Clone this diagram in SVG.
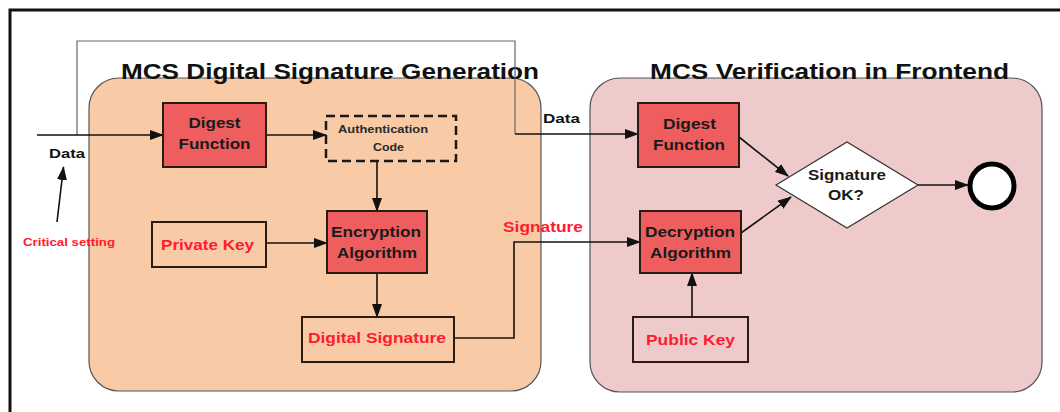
<svg xmlns="http://www.w3.org/2000/svg" width="1060" height="412" viewBox="0 0 1060 412">
<style>
text{font-family:"Liberation Sans",Arial,sans-serif;font-weight:bold;text-anchor:middle}
.t{font-size:22px;fill:#111}
.lbl{font-size:15.5px;fill:#1a1a1a}
.red{fill:#ff1a2e}
.box{stroke:#2a1c12;stroke-width:2}
.fn{fill:#ef5e5e}
.plain{fill:none}
.conn{fill:none;stroke:#111;stroke-width:1.6}
.thin{fill:none;stroke:#666;stroke-width:1.2}
</style>
<defs>
<marker id="ah" viewBox="0 0 14 10" refX="13" refY="5" markerWidth="14" markerHeight="10" markerUnits="userSpaceOnUse" orient="auto">
<path d="M0,0 L14,5 L0,10 z" fill="#111"/>
</marker>
</defs>
<rect width="1060" height="412" fill="#fff"/>
<path d="M10,412 V10 H1060" fill="none" stroke="#111" stroke-width="3"/>

<g id="panel-generation">
<rect x="89" y="78" width="452" height="313" rx="30" fill="#f9caa6" stroke="#555" stroke-width="1.2"/>
<text class="t" x="330" y="79" textLength="418" lengthAdjust="spacingAndGlyphs">MCS Digital Signature Generation</text>
</g>
<g id="panel-verification">
<rect x="590" y="78" width="452" height="314" rx="30" fill="#efcaca" stroke="#555" stroke-width="1.2"/>
<text class="t" x="829.5" y="79" textLength="359" lengthAdjust="spacingAndGlyphs">MCS Verification in Frontend</text>
</g>

<g id="connectors">
<path class="thin" d="M77,135 V41 H515 V134"/>
<path class="conn" d="M515,134 H638" marker-end="url(#ah)"/>
<path class="conn" d="M37,135 H163" marker-end="url(#ah)"/>
<path class="conn" d="M266,135 H326" marker-end="url(#ah)"/>
<path class="conn" d="M377,161 V211" marker-end="url(#ah)"/>
<path class="conn" d="M266,243 H327" marker-end="url(#ah)"/>
<path class="conn" d="M377,273 V317" marker-end="url(#ah)"/>
<path class="conn" d="M454,338 H514 V242 H640" marker-end="url(#ah)"/>
<path class="conn" d="M692,317 V273" marker-end="url(#ah)"/>
<path class="conn" d="M739,137 L788,176" marker-end="url(#ah)"/>
<path class="conn" d="M741,233 L791,197" marker-end="url(#ah)"/>
<path class="conn" d="M918,185 H968" marker-end="url(#ah)"/>
<path class="conn" d="M57,222 L63.5,167" stroke-width="1.2" marker-end="url(#ah)"/>
<text x="67" y="158" font-size="13" fill="#111" textLength="36" lengthAdjust="spacingAndGlyphs">Data</text>
<text x="69" y="246" font-size="11" class="red" textLength="92" lengthAdjust="spacingAndGlyphs">Critical setting</text>
<text x="561.5" y="123" font-size="13" fill="#111" textLength="37" lengthAdjust="spacingAndGlyphs">Data</text>
<text x="543" y="232" font-size="14.5" class="red" textLength="80" lengthAdjust="spacingAndGlyphs">Signature</text>
</g>

<g id="digest-gen">
<rect class="box fn" x="163" y="103" width="103" height="64"/>
<text class="lbl" x="214.5" y="128" textLength="52" lengthAdjust="spacingAndGlyphs">Digest</text>
<text class="lbl" x="214.5" y="149" textLength="72" lengthAdjust="spacingAndGlyphs">Function</text>
</g>
<g id="auth-code">
<rect x="326" y="116" width="130" height="45" fill="none" stroke="#1a1a1a" stroke-width="2.5" stroke-dasharray="9,5"/>
<text x="383" y="133" font-size="11.5" fill="#2a2a2a" textLength="90" lengthAdjust="spacingAndGlyphs">Authentication</text>
<text x="388.5" y="151" font-size="11.5" fill="#2a2a2a" textLength="31" lengthAdjust="spacingAndGlyphs">Code</text>
</g>
<g id="encryption">
<rect class="box fn" x="327" y="211" width="100" height="62"/>
<text class="lbl" x="376" y="237" textLength="90" lengthAdjust="spacingAndGlyphs">Encryption</text>
<text class="lbl" x="377" y="258" textLength="80" lengthAdjust="spacingAndGlyphs">Algorithm</text>
</g>
<g id="private-key">
<rect class="box plain" x="152" y="222" width="114" height="45"/>
<text class="lbl red" x="207.5" y="250" textLength="93" lengthAdjust="spacingAndGlyphs">Private Key</text>
</g>
<g id="digital-signature">
<rect class="box plain" x="302" y="317" width="152" height="45"/>
<text class="lbl red" x="377" y="343" textLength="138" lengthAdjust="spacingAndGlyphs">Digital Signature</text>
</g>

<g id="digest-ver">
<rect class="box fn" x="638" y="103" width="101" height="64"/>
<text class="lbl" x="689.5" y="129" textLength="53" lengthAdjust="spacingAndGlyphs">Digest</text>
<text class="lbl" x="689" y="150" textLength="72" lengthAdjust="spacingAndGlyphs">Function</text>
</g>
<g id="decryption">
<rect class="box fn" x="640" y="211" width="101" height="62"/>
<text class="lbl" x="690" y="237" textLength="90" lengthAdjust="spacingAndGlyphs">Decryption</text>
<text class="lbl" x="690.5" y="258" textLength="81" lengthAdjust="spacingAndGlyphs">Algorithm</text>
</g>
<g id="public-key">
<rect class="box plain" x="633" y="317" width="115" height="45"/>
<text class="lbl red" x="690.5" y="345" textLength="89" lengthAdjust="spacingAndGlyphs">Public Key</text>
</g>
<g id="signature-ok">
<path d="M776,185 L847,142 L918,185 L847,228 z" fill="#fff" stroke="#333" stroke-width="1.2"/>
<text x="847" y="180" font-size="14" fill="#1a1a1a" textLength="78" lengthAdjust="spacingAndGlyphs">Signature</text>
<text x="846" y="200" font-size="14" fill="#1a1a1a" textLength="36" lengthAdjust="spacingAndGlyphs">OK?</text>
</g>
<g id="end">
<circle cx="992" cy="186" r="22" fill="#fff" stroke="#000" stroke-width="5"/>
</g>
</svg>
